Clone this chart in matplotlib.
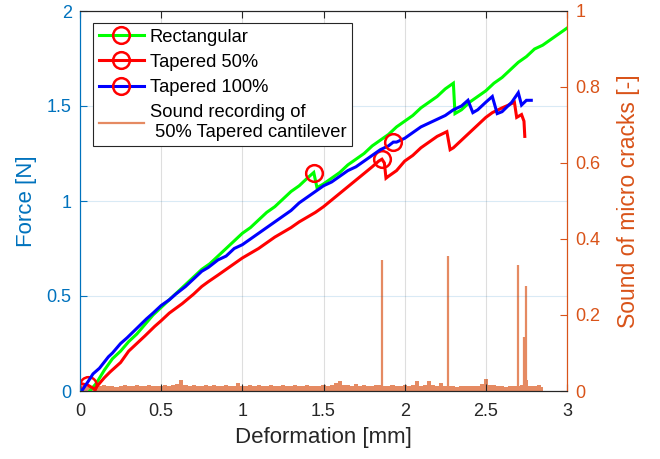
import matplotlib
matplotlib.use("Agg")
import matplotlib.pyplot as plt
from matplotlib.lines import Line2D

plt.rcParams['font.family'] = ['Liberation Sans', 'DejaVu Sans']

# ---- force / deformation curves ----
rect_d = [0.06, 0.10, 0.15, 0.20, 0.25, 0.30, 0.35, 0.40, 0.45, 0.50, 0.55, 0.60,
          0.65, 0.70, 0.75, 0.80, 0.85, 0.90, 0.95, 1.00, 1.05, 1.10, 1.15, 1.20,
          1.25, 1.30, 1.35, 1.40, 1.44, 1.46, 1.50, 1.55, 1.60, 1.65, 1.70, 1.75,
          1.80, 1.85, 1.90, 1.95, 2.00, 2.05, 2.10, 2.15, 2.20, 2.25, 2.30, 2.31,
          2.35, 2.40, 2.45, 2.50, 2.55, 2.60, 2.65, 2.70, 2.75, 2.80, 2.85, 2.90,
          2.95, 3.00]
rect_f = [0.00, 0.04, 0.11, 0.17, 0.21, 0.26, 0.30, 0.35, 0.40, 0.44, 0.48, 0.52,
          0.56, 0.60, 0.64, 0.67, 0.71, 0.75, 0.79, 0.83, 0.86, 0.90, 0.94, 0.97,
          1.01, 1.05, 1.08, 1.12, 1.15, 1.07, 1.09, 1.12, 1.15, 1.19, 1.22, 1.25,
          1.29, 1.32, 1.35, 1.39, 1.42, 1.45, 1.49, 1.52, 1.55, 1.59, 1.62, 1.46,
          1.48, 1.52, 1.55, 1.58, 1.62, 1.65, 1.69, 1.73, 1.76, 1.80, 1.82, 1.85,
          1.88, 1.91]
rect_marks = [1.44]

tap50_d = [0.00, 0.05, 0.09, 0.12, 0.15, 0.185, 0.25, 0.30, 0.35, 0.40, 0.46, 0.50,
           0.55, 0.63, 0.70, 0.75, 0.79, 0.85, 0.90, 0.95, 1.00, 1.05, 1.10, 1.15,
           1.20, 1.25, 1.30, 1.35, 1.40, 1.45, 1.50, 1.55, 1.60, 1.65, 1.70, 1.75,
           1.80, 1.84, 1.86, 1.875, 1.885, 1.90, 1.95, 2.00, 2.05, 2.10, 2.15, 2.20,
           2.26, 2.28, 2.30, 2.35, 2.40, 2.45, 2.50, 2.54, 2.60, 2.64, 2.676, 2.69,
           2.72, 2.735, 2.74]
tap50_f = [0.04, 0.03, 0.01, 0.04, 0.07, 0.10, 0.15, 0.21, 0.25, 0.29, 0.34, 0.37,
           0.41, 0.46, 0.51, 0.55, 0.575, 0.61, 0.64, 0.67, 0.70, 0.725, 0.75, 0.78,
           0.81, 0.835, 0.86, 0.89, 0.915, 0.94, 0.97, 1.005, 1.04, 1.075, 1.11, 1.145,
           1.18, 1.21, 1.22, 1.20, 1.12, 1.13, 1.16, 1.21, 1.24, 1.28, 1.31, 1.34,
           1.365, 1.27, 1.28, 1.32, 1.36, 1.40, 1.44, 1.465, 1.49, 1.505, 1.52, 1.44,
           1.455, 1.42, 1.34]
tap50_marks = [0.05, 1.86]

tap100_d = [0.01, 0.05, 0.08, 0.12, 0.175, 0.20, 0.25, 0.29, 0.35, 0.41, 0.45, 0.50,
            0.55, 0.59, 0.65, 0.70, 0.75, 0.79, 0.85, 0.90, 0.95, 1.00, 1.05, 1.10,
            1.15, 1.20, 1.25, 1.30, 1.35, 1.40, 1.45, 1.50, 1.55, 1.60, 1.65, 1.70,
            1.75, 1.80, 1.85, 1.90, 1.93, 1.95, 2.00, 2.05, 2.10, 2.15, 2.20, 2.25,
            2.30, 2.35, 2.39, 2.42, 2.45, 2.50, 2.54, 2.57, 2.60, 2.66, 2.70, 2.72,
            2.75, 2.78]
tap100_f = [0.00, 0.05, 0.09, 0.12, 0.18, 0.20, 0.25, 0.28, 0.33, 0.38, 0.41, 0.45,
            0.48, 0.51, 0.55, 0.59, 0.63, 0.65, 0.69, 0.71, 0.75, 0.77, 0.80, 0.83,
            0.86, 0.89, 0.92, 0.95, 0.99, 1.02, 1.05, 1.08, 1.10, 1.13, 1.16, 1.18,
            1.21, 1.24, 1.27, 1.29, 1.31, 1.31, 1.33, 1.36, 1.39, 1.41, 1.43, 1.45,
            1.48, 1.50, 1.53, 1.465, 1.48, 1.52, 1.55, 1.46, 1.47, 1.52, 1.57, 1.505,
            1.53, 1.53]
tap100_marks = [1.93]

# ---- acoustic recording (50% tapered) ----
sound_d = [0.000, 0.025, 0.050, 0.075, 0.100, 0.125, 0.150, 0.175, 0.200, 0.225,
           0.250, 0.275, 0.300, 0.325, 0.350, 0.375, 0.400, 0.425, 0.450, 0.475,
           0.500, 0.525, 0.550, 0.575, 0.600, 0.625, 0.650, 0.675, 0.700, 0.725,
           0.750, 0.775, 0.800, 0.825, 0.850, 0.875, 0.900, 0.925, 0.950, 0.975,
           1.000, 1.025, 1.050, 1.075, 1.100, 1.125, 1.150, 1.175, 1.200, 1.225,
           1.250, 1.275, 1.300, 1.325, 1.350, 1.375, 1.400, 1.425, 1.450, 1.475,
           1.500, 1.525, 1.550, 1.575, 1.600, 1.625, 1.650, 1.675, 1.700, 1.725,
           1.750, 1.775, 1.800, 1.825, 1.850, 1.875, 1.900, 1.925, 1.950, 1.975,
           2.000, 2.025, 2.050, 2.075, 2.100, 2.125, 2.150, 2.175, 2.200, 2.225,
           2.250, 2.275, 2.300, 2.325, 2.350, 2.375, 2.400, 2.425, 2.450, 2.475,
           2.500, 2.525, 2.550, 2.575, 2.600, 2.625, 2.650, 2.675, 2.700, 2.725,
           2.750, 2.775, 2.800, 2.825, 2.850]
sound_s = [0.012, 0.014, 0.011, 0.013, 0.015, 0.012, 0.016, 0.013, 0.014, 0.011,
           0.013, 0.015, 0.012, 0.014, 0.017, 0.013, 0.012, 0.015, 0.013, 0.014,
           0.012, 0.016, 0.013, 0.015, 0.018, 0.030, 0.016, 0.013, 0.015, 0.012,
           0.014, 0.016, 0.013, 0.015, 0.012, 0.014, 0.017, 0.013, 0.012, 0.020,
           0.014, 0.013, 0.015, 0.012, 0.016, 0.014, 0.013, 0.015, 0.012, 0.014,
           0.016, 0.013, 0.012, 0.015, 0.014, 0.013, 0.016, 0.012, 0.014, 0.013,
           0.015, 0.012, 0.016, 0.022, 0.026, 0.015, 0.016, 0.013, 0.018, 0.014,
           0.015, 0.012, 0.014, 0.016, 0.015, 0.013, 0.012, 0.015, 0.014, 0.013,
           0.016, 0.013, 0.015, 0.025, 0.014, 0.017, 0.027, 0.015, 0.014, 0.022,
           0.013, 0.012, 0.014, 0.011, 0.013, 0.014, 0.012, 0.013, 0.014, 0.019,
           0.031, 0.017, 0.015, 0.012, 0.013, 0.011, 0.014, 0.012, 0.013, 0.016,
           0.028, 0.014, 0.012, 0.016, 0.010]
spike_d = [1.859, 2.265, 2.697, 2.738, 2.746]
spike_s = [0.345, 0.355, 0.332, 0.143, 0.276]

BLUE_AX = '#0072BD'
ORANGE_AX = '#D95319'
DARK = '#262626'
SOUND = '#E58A62'

fig = plt.figure(figsize=(6.6, 4.59), dpi=100)
ax = fig.add_axes([80 / 660, 1 - 391 / 459, 487 / 660, 380 / 459])
ax2 = ax.twinx()
ax.set_zorder(ax2.get_zorder() + 1)
ax.patch.set_visible(False)

# sound signal on the right axis
ax2.fill_between(sound_d, 0, sound_s, step='mid', color=SOUND, lw=0)
ax2.vlines(spike_d, 0, spike_s, color=SOUND, lw=1.6)
ax2.set_ylim(0, 1)
ax2.set_yticks([0, 0.2, 0.4, 0.6, 0.8, 1.0])
ax2.set_yticklabels(['0', '0.2', '0.4', '0.6', '0.8', '1'])
ax2.tick_params(axis='y', colors=ORANGE_AX, direction='in', length=5, labelsize=13, pad=6)
ax2.set_ylabel('Sound of micro cracks [-]', color=ORANGE_AX, fontsize=16.5, labelpad=12)

lw = 2.2
mk = dict(marker='o', mec='#FF0000', mfc='none', ms=12, mew=1.8)


def draw(d, f, marks, color):
    ax.plot(d, f, color=color, lw=lw, solid_joinstyle='miter')
    md = [x for x in d if x in marks]
    mf = [f[d.index(x)] for x in md]
    ax.plot(md, mf, linestyle='none', **mk)


draw(rect_d, rect_f, rect_marks, '#00FF00')
draw(tap50_d, tap50_f, tap50_marks, '#FF0000')
draw(tap100_d, tap100_f, tap100_marks, '#0000FF')

ax.set_xlim(0, 3)
ax.set_ylim(0, 2)
ax.set_xticks([0, 0.5, 1, 1.5, 2, 2.5, 3])
ax.set_xticklabels(['0', '0.5', '1', '1.5', '2', '2.5', '3'])
ax.set_yticks([0, 0.5, 1, 1.5, 2])
ax.set_yticklabels(['0', '0.5', '1', '1.5', '2'])
ax.tick_params(axis='x', colors=DARK, direction='in', length=5, labelsize=13,
               top=True, pad=9)
ax.tick_params(axis='y', colors=BLUE_AX, direction='in', length=5, labelsize=13, pad=6)
ax.set_xlabel('Deformation [mm]', color=DARK, fontsize=16, labelpad=5)
ax.set_ylabel('Force [N]', color=BLUE_AX, fontsize=16, labelpad=7)

ax.xaxis.grid(True, color=DARK, alpha=0.15, lw=0.8)
ax.yaxis.grid(True, color=BLUE_AX, alpha=0.15, lw=0.8)

for a in (ax, ax2):
    a.spines['top'].set_color(DARK)
    a.spines['bottom'].set_color(DARK)
    a.spines['left'].set_color(BLUE_AX)
    a.spines['right'].set_color(ORANGE_AX)
    for s in a.spines.values():
        s.set_linewidth(0.8)

handles = [
    Line2D([], [], color='#00FF00', lw=lw, **mk),
    Line2D([], [], color='#FF0000', lw=lw, **mk),
    Line2D([], [], color='#0000FF', lw=lw, **mk),
    Line2D([], [], color=SOUND, lw=1.6),
]
labels = ['Rectangular', 'Tapered 50%', 'Tapered 100%',
          'Sound recording of\n 50% Tapered cantilever']
leg = ax.legend(handles, labels, loc='upper left', bbox_to_anchor=(13 / 487, 1 - 12 / 380),
                fontsize=13.2, numpoints=1, fancybox=False, framealpha=1,
                edgecolor=DARK, borderpad=0.3, labelspacing=0.45, handlelength=2.5,
                handletextpad=0.3, borderaxespad=0)
leg.get_frame().set_linewidth(0.8)

fig.savefig('out.png', dpi=100)
